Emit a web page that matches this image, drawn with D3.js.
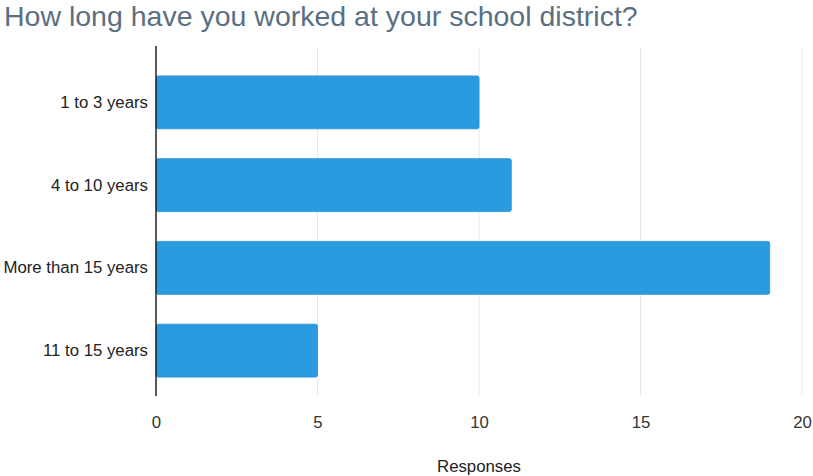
<!DOCTYPE html>
<html>
<head>
<meta charset="utf-8">
<script src="https://cdn.jsdelivr.net/npm/d3@7"></script>
<style>
  html, body { margin: 0; padding: 0; background: #fff; }
  svg { display: block; font-family: "Liberation Sans", Arial, sans-serif; }
</style>
</head>
<body>
<svg id="chart" width="813" height="476"></svg>
<script>
// Survey answers: tenure at the school district
const categories = ["1 to 3 years", "4 to 10 years", "More than 15 years", "11 to 15 years"];
const responses = [10, 11, 19, 5];
const xTicks = [0, 5, 10, 15, 20];
const titleText = "How long have you worked at your school district?";
const xAxisTitle = "Responses";

const svg = d3.select("#chart");

const x = d3.scaleLinear().domain([0, 20]).range([156, 802]);
const y = d3.scaleBand().domain(categories).range([61, 392]).paddingInner(0.36).paddingOuter(0.18);

// Title
svg.append("text")
  .attr("x", 4).attr("y", 26)
  .attr("fill", "#5b6f82")
  .attr("font-size", 28.5)
  .text(titleText);

// Vertical gridlines
svg.append("g")
  .selectAll("line")
  .data(xTicks.filter(d => d > 0))
  .join("line")
  .attr("x1", d => x(d)).attr("x2", d => x(d))
  .attr("y1", 47).attr("y2", 395)
  .attr("stroke", "#e6e8ec").attr("stroke-width", 1);

// Bars
svg.append("g")
  .selectAll("rect")
  .data(categories)
  .join("rect")
  .attr("x", x(0))
  .attr("y", d => y(d))
  .attr("width", (d, i) => x(responses[i]) - x(0))
  .attr("height", y.bandwidth())
  .attr("rx", 2)
  .attr("fill", "#2b9be0")
  .attr("stroke", "#2490d4")
  .attr("stroke-width", 0.8);

// Baseline axis at zero
svg.append("line")
  .attr("x1", x(0)).attr("x2", x(0))
  .attr("y1", 46).attr("y2", 396)
  .attr("stroke", "#222").attr("stroke-width", 1.5);

// Category labels
const yAxis = d3.axisLeft(y).tickSize(0).tickPadding(8);
const gy = svg.append("g").attr("transform", `translate(${x(0)},0)`).call(yAxis);
gy.select(".domain").remove();
gy.selectAll("text")
  .attr("font-size", 16.8)
  .attr("font-family", "Liberation Sans, Arial, sans-serif")
  .attr("fill", "#222");

// Value axis tick labels
const xAxis = d3.axisBottom(x).tickValues(xTicks).tickSize(0).tickPadding(0);
const gx = svg.append("g").attr("transform", "translate(0,416)").call(xAxis);
gx.select(".domain").remove();
gx.selectAll("text")
  .attr("font-size", 16.8)
  .attr("font-family", "Liberation Sans, Arial, sans-serif")
  .attr("fill", "#333");

// Axis title
svg.append("text")
  .attr("x", 479).attr("y", 472)
  .attr("text-anchor", "middle")
  .attr("font-size", 16.8)
  .attr("fill", "#222")
  .text(xAxisTitle);
</script>
</body>
</html>
